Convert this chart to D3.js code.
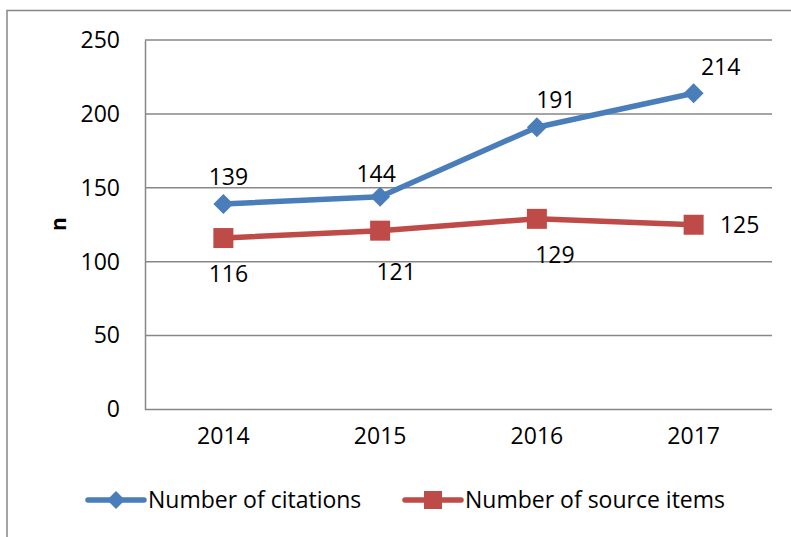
<!DOCTYPE html>
<html>
<head>
<meta charset="utf-8">
<script src="https://cdn.jsdelivr.net/npm/d3@7"></script>
<style>
  html, body { margin: 0; padding: 0; background: #fff; }
  svg { display: block; }
  text { font-family: "Open Sans", "Noto Sans", sans-serif; fill: #000; }
</style>
</head>
<body>
<svg id="chart" width="791" height="537"></svg>
<script>
// Years on the horizontal axis
const years = ["2014", "2015", "2016", "2017"];
// Series values
const citations = [139, 144, 191, 214];
const sourceItems = [116, 121, 129, 125];
// Series names shown in the legend
const seriesNames = ["Number of citations", "Number of source items"];
// Vertical axis ticks
const yTicks = [0, 50, 100, 150, 200, 250];

const svg = d3.select("#chart");
const plot = { left: 145, top: 40, right: 772, bottom: 409.5 };
const gridColor = "#878787";
const fontSize = 23;

// Value label nudges (pixels) relative to each point, per series
const labelNudge = [
  { dx: [5, -4, 19, 27], dy: [-27, -23, -27.5, -26] },
  { dx: [5, 16, 18, 46], dy: [36, 41, 36, 0] }
];

// Outer chart frame (runs past the right and bottom edges)
svg.append("rect")
  .attr("x", 7).attr("y", 10.5)
  .attr("width", 820).attr("height", 600)
  .attr("fill", "none").attr("stroke", gridColor).attr("stroke-width", 1.5);

const x = d3.scaleBand().domain(years).range([plot.left, plot.right]);
const y = d3.scaleLinear().domain([0, 250]).range([plot.bottom, plot.top]);
const cx = d => x(d) + x.bandwidth() / 2;

// Horizontal gridlines
svg.append("g")
  .selectAll("line")
  .data(yTicks)
  .join("line")
  .attr("x1", plot.left).attr("x2", plot.right)
  .attr("y1", d => y(d)).attr("y2", d => y(d))
  .attr("stroke", gridColor).attr("stroke-width", 1.5);

// Y axis: vertical line plus tick labels
const yAxis = d3.axisLeft(y).tickValues(yTicks).tickSize(0).tickPadding(25);
const yg = svg.append("g").attr("transform", `translate(${plot.left},0)`).call(yAxis);
yg.select(".domain").attr("stroke", gridColor).attr("stroke-width", 1.5);
yg.selectAll("text")
  .attr("font-size", fontSize)
  .attr("font-family", "'Open Sans', 'Noto Sans', sans-serif")
  .attr("fill", "#000")
  .attr("dy", "0.32em");

// X axis labels
const xAxis = d3.axisBottom(x).tickSize(0).tickPadding(18);
const xg = svg.append("g").attr("transform", `translate(0,${plot.bottom})`).call(xAxis);
xg.select(".domain").remove();
xg.selectAll("text")
  .attr("font-size", fontSize)
  .attr("font-family", "'Open Sans', 'Noto Sans', sans-serif")
  .attr("fill", "#000");

// Y axis title
svg.append("text")
  .attr("transform", "translate(59,224) rotate(-90)")
  .attr("text-anchor", "middle")
  .attr("dy", "0.35em")
  .attr("font-size", 21)
  .attr("font-weight", "bold")
  .text("n");

const series = [
  { name: seriesNames[0], values: citations, color: "#4a7ebb", marker: "diamond" },
  { name: seriesNames[1], values: sourceItems, color: "#be4b48", marker: "square" }
];

const line = d3.line().x((d, i) => cx(years[i])).y(d => y(d));

function drawMarker(g, type, px, py, color) {
  if (type === "diamond") {
    const r = 10;
    g.append("path")
      .attr("d", `M${px},${py - r}L${px + r},${py}L${px},${py + r}L${px - r},${py}Z`)
      .attr("fill", color);
  } else {
    const s = 20;
    g.append("rect")
      .attr("x", px - s / 2).attr("y", py - s / 2)
      .attr("width", s).attr("height", s)
      .attr("fill", color);
  }
}

series.forEach((s, si) => {
  const g = svg.append("g");
  g.append("path")
    .datum(s.values)
    .attr("d", line)
    .attr("fill", "none")
    .attr("stroke", s.color)
    .attr("stroke-width", 5.5)
    .attr("stroke-linejoin", "round");
  s.values.forEach((v, i) => drawMarker(g, s.marker, cx(years[i]), y(v), s.color));

  // Value labels placed next to each point
  s.values.forEach((v, i) => {
    g.append("text")
      .attr("x", cx(years[i]) + labelNudge[si].dx[i])
      .attr("y", y(v) + labelNudge[si].dy[i])
      .attr("dy", "0.36em")
      .attr("text-anchor", "middle")
      .attr("font-size", fontSize)
      .text(v);
  });
});

// Legend
const legend = [
  { x0: 88, x1: 144, textX: 148 },
  { x0: 405, x1: 461, textX: 465 }
];
const legendY = 500;
series.forEach((s, i) => {
  const L = legend[i];
  const g = svg.append("g");
  g.append("line")
    .attr("x1", L.x0).attr("x2", L.x1)
    .attr("y1", legendY).attr("y2", legendY)
    .attr("stroke", s.color).attr("stroke-width", 5.5)
    .attr("stroke-linecap", "round");
  const px = (L.x0 + L.x1) / 2;
  if (s.marker === "diamond") {
    const r = 9;
    g.append("path")
      .attr("d", `M${px},${legendY - r}L${px + r},${legendY}L${px},${legendY + r}L${px - r},${legendY}Z`)
      .attr("fill", s.color);
  } else {
    const sz = 18;
    g.append("rect")
      .attr("x", px - sz / 2).attr("y", legendY - sz / 2)
      .attr("width", sz).attr("height", sz)
      .attr("fill", s.color);
  }
  g.append("text")
    .attr("x", L.textX).attr("y", legendY)
    .attr("dy", "0.36em")
    .attr("font-size", fontSize)
    .text(s.name);
});
</script>
</body>
</html>
